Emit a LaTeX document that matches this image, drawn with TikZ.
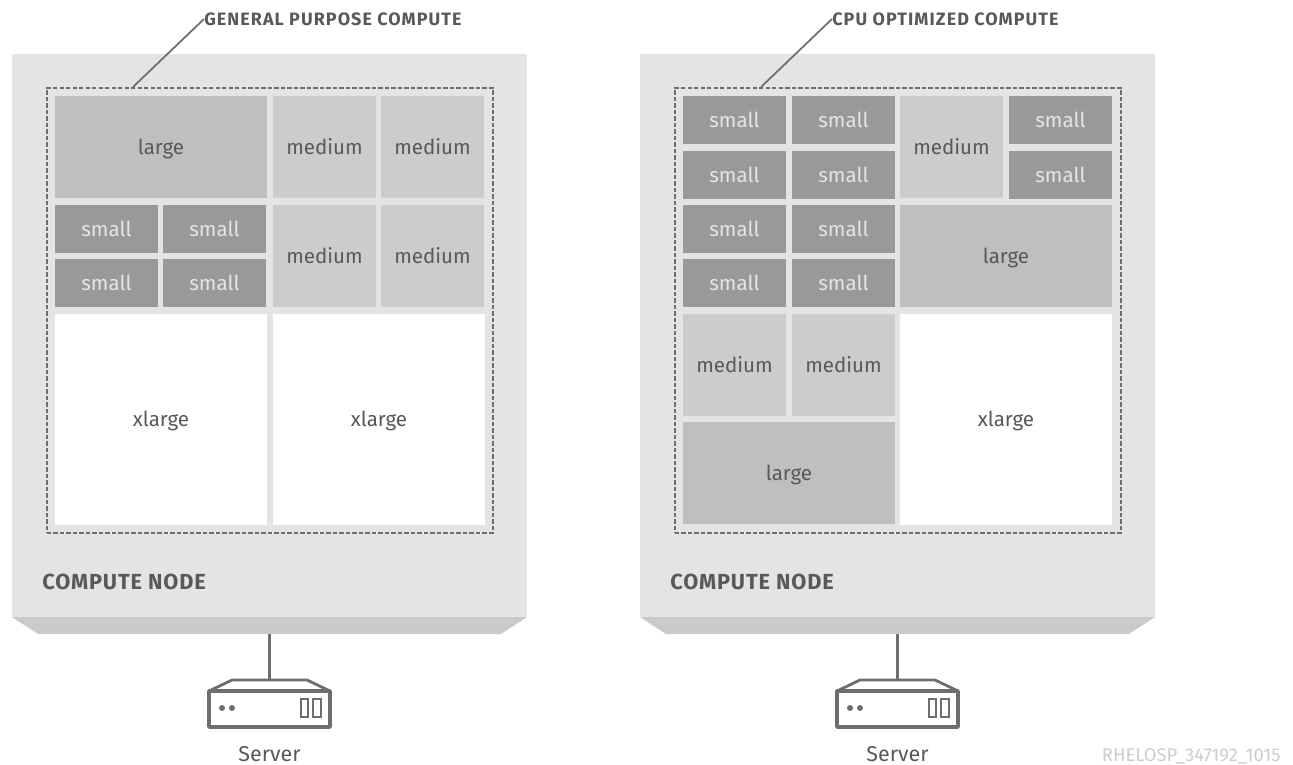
\documentclass[tikz,border=0pt]{standalone}
\usepackage{fontspec}
\setmainfont{Fira Sans}
\definecolor{panelgray}{HTML}{E4E4E4}
\definecolor{bevelgray}{HTML}{CACACA}
\definecolor{inkgray}{HTML}{58595B}
\definecolor{linegray}{HTML}{6D6E70}
\tikzset{
    tile/.style={anchor=north west,inner sep=0,outer sep=0,text=inkgray,text height=8.4pt,text depth=0pt,font=\fontsize{11.7}{13}\selectfont},
    smalltile/.style={tile,fill=black!40,text=white!90!black,minimum width=2.06cm,minimum height=0.96cm},
    mediumtile/.style={tile,fill=black!20,minimum width=2.06cm,minimum height=2.04cm},
    largetile/.style={tile,fill=black!25,minimum width=4.24cm,minimum height=2.04cm},
    xlargetile/.style={tile,fill=white,minimum width=4.24cm,minimum height=4.22cm},
    caption/.style={anchor=west,inner sep=0,text=inkgray,font=\bfseries\fontsize{10.2}{12}\selectfont\addfontfeature{LetterSpace=6}},
}
\begin{document}
\begin{tikzpicture}[x=0.02cm,y=-0.02cm]
    \useasboundingbox (0,0) rectangle (1293,764);
    \foreach \k/\dx/\name in {a/0/GENERAL PURPOSE COMPUTE,b/628/CPU OPTIMIZED COMPUTE} {
        \begin{scope}[xshift=\dx*0.02cm]
            % panel with its lower edge
            \fill[panelgray] (12,54) rectangle (527,617);
            \fill[bevelgray] (12,617) -- (527,617) -- (501,634) -- (38,634) -- cycle;
            \coordinate (bevel\k) at (269.5,634);
            \coordinate (corner\k) at (133,87);
            \node[draw=linegray,line width=1pt,dash pattern=on 2.4pt off 1.3pt,inner sep=0,minimum width=8.92cm,minimum height=8.9cm,anchor=north west] (group\k) at (46,87) {};
            \node[caption] (title\k) at (204,19) {\name};
            \draw[linegray,line width=1pt] (corner\k) -- (title\k.west);
            \node[caption,font=\bfseries\fontsize{12.4}{14}\selectfont\addfontfeature{LetterSpace=4}] (label\k) at (42,582) {COMPUTE NODE};
            % server
            \coordinate (server\k) at (269.5,680);
            \draw[linegray,line width=1.3pt] (bevel\k) -- (server\k);
            \draw[linegray,line width=1.6pt,line join=round] (209,691) -- (232,680) -- (307,680) -- (330,691);
            \draw[linegray,line width=2pt,line join=round] (209,691) rectangle (330,727);
            \foreach \p in {222,232} {
                \fill[linegray] (\p,708) circle (3);
            }
            \draw[linegray,line width=0.9pt] (301,699) rectangle (308,717);
            \draw[linegray,line width=0.9pt] (313,699) rectangle (321,717);
            \node[text=inkgray,font=\fontsize{12.2}{14}\selectfont] (name\k) at (269.5,754) {Server};
        \end{scope}
    }
    % left panel
    \node[largetile] (la) at (55,96) {large};
    \foreach \p/\x/\y in {a/273/96,b/381/96,c/273/205,d/381/205} {
        \node[mediumtile] (lm\p) at (\x,\y) {medium};
    }
    \foreach \p/\x/\y in {a/55/205,b/163/205,c/55/259,d/163/259} {
        \node[smalltile] (ls\p) at (\x,\y) {small};
    }
    \node[xlargetile] (lxa) at (55,314) {xlarge};
    \node[xlargetile] (lxb) at (273,314) {xlarge};
    % right panel
    \foreach \p/\x/\y in {a/683/96,b/792/96,c/683/151,d/792/151,e/683/205,f/792/205,g/683/259,h/792/259,i/1009/96,j/1009/151} {
        \node[smalltile] (rs\p) at (\x,\y) {small};
    }
    \foreach \p/\x/\y in {a/900/96,b/683/314,c/792/314} {
        \node[mediumtile] (rm\p) at (\x,\y) {medium};
    }
    \node[largetile] (rla) at (900,205) {large};
    \node[largetile] (rlb) at (683,422) {large};
    \node[xlargetile] (rxa) at (900,314) {xlarge};
    \node[anchor=east,inner sep=0,text=black!20,font=\fontsize{10.5}{12}\selectfont] (tag) at (1281,756) {RHELOSP\_347192\_1015};
\end{tikzpicture}
\end{document}
